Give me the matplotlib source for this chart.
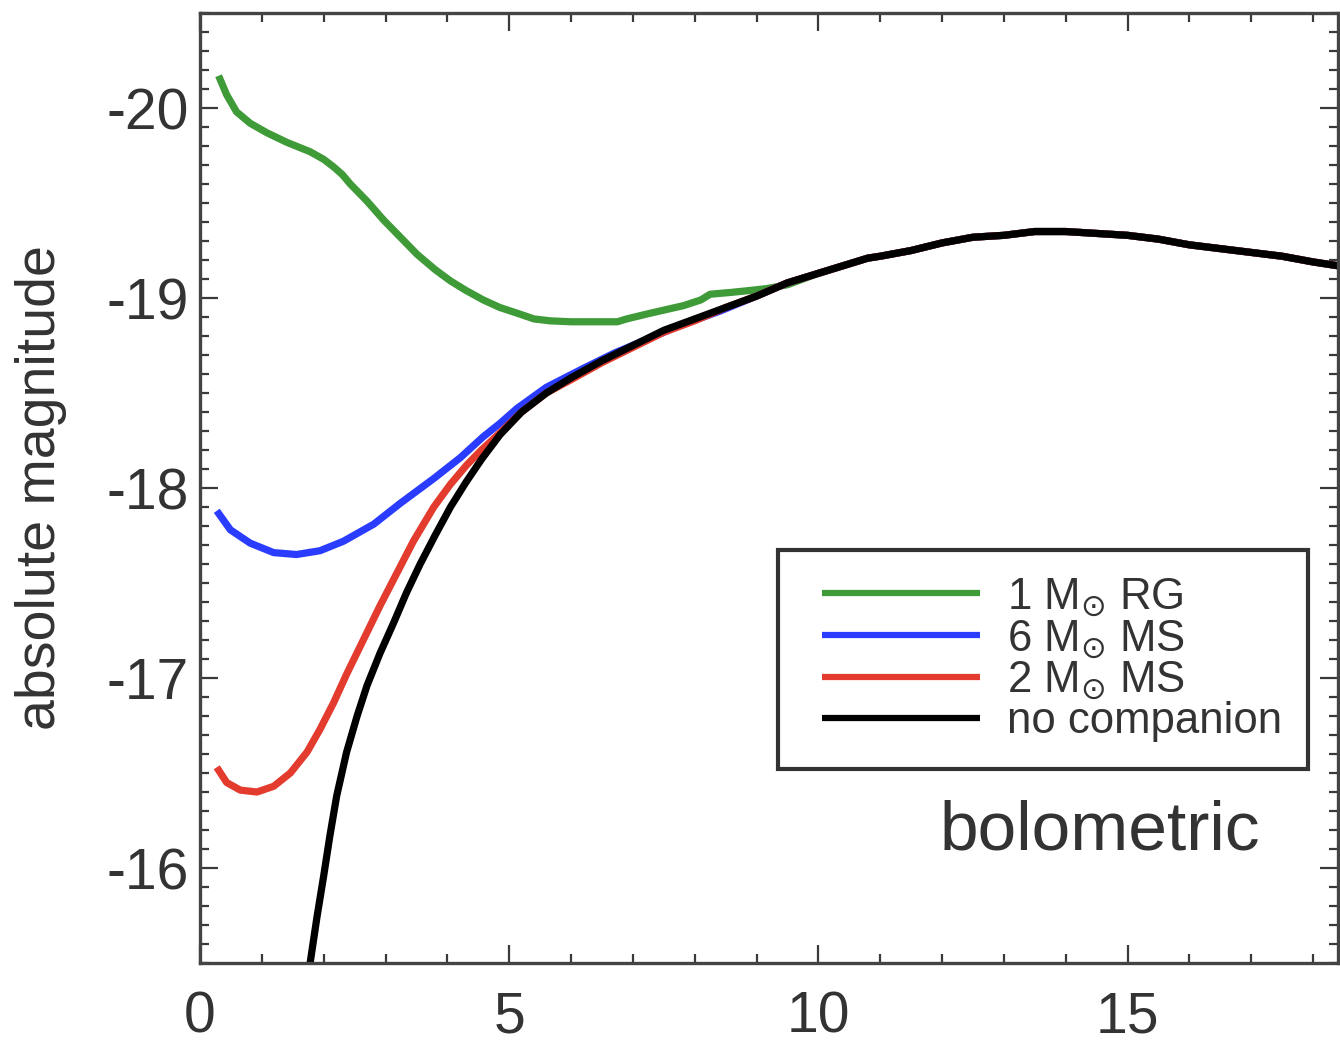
import matplotlib
matplotlib.use("Agg")
import matplotlib.pyplot as plt
from matplotlib.ticker import MultipleLocator

plt.rcParams['font.family'] = ['Liberation Sans', 'DejaVu Sans']
plt.rcParams['axes.unicode_minus'] = False
plt.rcParams['mathtext.fontset'] = 'dejavusans'

# ---------------- data ----------------
# common late-time light curve shared by all models
tail_t = [10.0, 10.5, 10.8, 11.0, 11.5, 12.0, 12.5, 13.0, 13.5, 14.0, 14.5,
          15.0, 15.5, 16.0, 16.5, 17.0, 17.5, 18.0, 18.4]
tail_mag = [-19.13, -19.18, -19.21, -19.22, -19.25, -19.29, -19.32, -19.33, -19.35,
            -19.35, -19.34, -19.33, -19.31, -19.28, -19.26, -19.24, -19.22, -19.19, -19.17]

# no companion
black_t = [1.78, 1.89, 2.00, 2.10, 2.21, 2.37, 2.54, 2.70, 2.91, 3.13, 3.34, 3.56,
           3.80, 4.05, 4.30, 4.55, 4.85, 5.20, 5.60, 6.00, 6.50, 7.00, 7.50, 8.00,
           8.50, 9.00, 9.50]
black_mag = [-15.50, -15.74, -15.96, -16.17, -16.38, -16.61, -16.80, -16.96, -17.13,
             -17.29, -17.45, -17.60, -17.75, -17.90, -18.03, -18.15, -18.28, -18.40,
             -18.50, -18.58, -18.67, -18.75, -18.83, -18.89, -18.95, -19.01, -19.08]

# 2 Msun MS companion
red_t = [0.27, 0.43, 0.65, 0.92, 1.19, 1.46, 1.73, 1.94, 2.16, 2.37, 2.64, 2.91,
         3.18, 3.45, 3.78, 4.05, 4.31, 4.55, 4.85, 5.20, 5.60, 6.00, 6.50, 7.00,
         7.50, 8.00, 8.50, 9.00, 9.50]
red_mag = [-16.53, -16.45, -16.41, -16.40, -16.43, -16.50, -16.61, -16.73, -16.87,
           -17.02, -17.20, -17.38, -17.55, -17.72, -17.90, -18.02, -18.12, -18.20,
           -18.29, -18.40, -18.50, -18.57, -18.66, -18.74, -18.82, -18.88, -18.95,
           -19.01, -19.08]

# 6 Msun MS companion
blue_t = [0.27, 0.49, 0.81, 1.19, 1.56, 1.94, 2.32, 2.81, 3.24, 3.78, 4.21, 4.58,
          4.85, 5.13, 5.60, 6.20, 6.70, 7.28, 7.80, 8.40, 9.00, 9.50]
blue_mag = [-17.88, -17.78, -17.71, -17.66, -17.65, -17.67, -17.72, -17.81, -17.92,
            -18.05, -18.16, -18.27, -18.34, -18.42, -18.53, -18.63, -18.71, -18.79,
            -18.86, -18.93, -19.01, -19.08]

# 1 Msun RG companion
green_t = [0.30, 0.43, 0.59, 0.81, 1.08, 1.40, 1.78, 2.00, 2.16, 2.30, 2.43, 2.70,
           2.97, 3.24, 3.51, 3.80, 4.05, 4.30, 4.58, 4.85, 5.13, 5.40, 5.66, 6.00,
           6.47, 6.75, 6.90, 7.28, 7.82, 8.10, 8.25, 8.60, 8.90, 9.17, 9.50]
green_mag = [-20.17, -20.07, -19.98, -19.92, -19.87, -19.82, -19.77, -19.73, -19.69,
             -19.65, -19.60, -19.51, -19.41, -19.32, -19.23, -19.15, -19.09, -19.04,
             -18.99, -18.95, -18.92, -18.89, -18.88, -18.875, -18.875, -18.875, -18.89,
             -18.92, -18.96, -18.99, -19.02, -19.03, -19.04, -19.05, -19.07]

labels = ['1 M$_{\\odot}$ RG', '6 M$_{\\odot}$ MS', '2 M$_{\\odot}$ MS', 'no companion']
colors = ['#3f9a38', '#2a3cff', '#e33b2e', '#000000']

# ---------------- figure ----------------
fig = plt.figure(figsize=(13.4, 10.43), dpi=100)
ax = fig.add_axes([0.1493, 0.0767, 0.849, 0.9108])

series = [(green_t, green_mag), (blue_t, blue_mag), (red_t, red_mag), (black_t, black_mag)]
for (t, m), c, lab in zip(series, colors, labels):
    tt = list(t) + tail_t
    mm = list(m) + tail_mag
    ax.plot(tt, mm, color=c, lw=5.2, label=lab, solid_joinstyle='round',
            solid_capstyle='butt')

ax.set_xlim(0, 18.4)
ax.set_ylim(-15.5, -20.5)

ax.xaxis.set_major_locator(MultipleLocator(5))
ax.xaxis.set_minor_locator(MultipleLocator(1))
ax.yaxis.set_major_locator(MultipleLocator(1))
ax.yaxis.set_minor_locator(MultipleLocator(0.1))

tc = '#3a3a3a'
ax.tick_params(which='both', direction='in', top=True, right=True, color=tc,
               labelcolor='#333333')
ax.tick_params(which='major', length=13, width=1.6, labelsize=41)
ax.tick_params(which='minor', length=6.5, width=1.6)
ax.tick_params(axis='x', which='major', pad=20)
ax.tick_params(axis='y', which='major', pad=8)

for s in ax.spines.values():
    s.set_linewidth(2.4)
    s.set_color('#444444')

ax.set_ylabel('absolute magnitude', fontsize=40, color='#333333')
ax.yaxis.set_label_coords(-0.117, 0.5)

ax.text(0.791, 0.119, 'bolometric', transform=ax.transAxes, fontsize=50,
        color='#333333', ha='center', va='baseline')

fs = 31.5
leg = ax.legend(loc='upper right', bbox_to_anchor=(0.974, 0.435), fontsize=fs,
                frameon=True, fancybox=False, framealpha=1, borderaxespad=0,
                handlelength=4.0, handletextpad=0.62, labelspacing=0.0,
                borderpad=0.6)
leg.get_frame().set_edgecolor('#333333')
leg.get_frame().set_linewidth(3.0)
for line in leg.get_lines():
    line.set_linewidth(4.5)
    xd = list(line.get_xdata())
    x0, x1 = xd[0], xd[-1]
    line.set_xdata([x0 + 0.1 * (x1 - x0), x1])
    yd = list(line.get_ydata())
    line.set_ydata([yd[0], yd[-1]])
for txt in leg.get_texts():
    txt.set_color('#333333')

fig.savefig('out.png', dpi=100)
